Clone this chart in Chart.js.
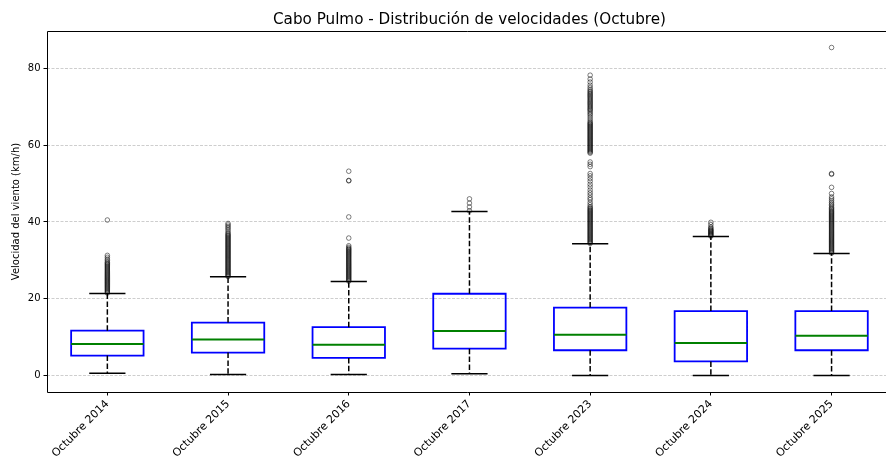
<!DOCTYPE html>
<html><head><meta charset="utf-8">
<script src="https://cdn.jsdelivr.net/npm/chart.js@4.4.1/dist/chart.umd.min.js"></script>
<style>html,body{margin:0;padding:0;background:#fff;overflow:hidden}#wrap{width:886px;height:457px}</style>
</head><body><div id="wrap"><canvas id="c" width="886" height="457"></canvas></div>
<script>
const categories = ["Octubre 2014","Octubre 2015","Octubre 2016","Octubre 2017","Octubre 2023","Octubre 2024","Octubre 2025"];
const whiskerLow  = [0.6, 0.3, 0.3, 0.5, 0.0, 0.0, 0.0];
const q1          = [5.2, 6.0, 4.6, 7.0, 6.6, 3.7, 6.6];
const median      = [8.2, 9.4, 8.0, 11.6, 10.6, 8.5, 10.4];
const q3          = [11.7, 13.8, 12.6, 21.3, 17.7, 16.8, 16.8];
const whiskerHigh = [21.4, 25.7, 24.5, 42.7, 34.3, 36.2, 31.8];

const outliers2014 = [21.5,21.75,22.0,22.25,22.5,22.75,23.0,23.25,23.5,23.75,24.0,24.25,24.5,24.75,25.0,25.25,25.5,25.75,26.0,26.25,26.5,26.75,27.0,27.25,27.5,27.75,28.0,28.25,28.5,28.75,29.0,29.25,29.5,29.9,30.3,30.8,31.3,40.5];
const outliers2015 = [25.8,26.05,26.3,26.55,26.8,27.05,27.3,27.55,27.8,28.05,28.3,28.55,28.8,29.05,29.3,29.55,29.8,30.05,30.3,30.55,30.8,31.05,31.3,31.55,31.8,32.05,32.3,32.55,32.8,33.05,33.3,33.55,33.8,34.05,34.3,34.55,34.8,35.05,35.3,35.55,35.8,36.05,36.3,36.55,36.8,37.1,37.5,38.0,38.4,38.8,39.2,39.6];
const outliers2016 = [24.6,24.85,25.1,25.35,25.6,25.85,26.1,26.35,26.6,26.85,27.1,27.35,27.6,27.85,28.1,28.35,28.6,28.85,29.1,29.35,29.6,29.85,30.1,30.35,30.6,30.85,31.1,31.35,31.6,31.85,32.1,32.35,32.6,32.85,33.1,33.4,33.8,35.8,41.3,50.7,50.8,53.2];
const outliers2017 = [42.9,43.9,44.9,46.0];
const outliers2023 = [34.4,34.65,34.9,35.15,35.4,35.65,35.9,36.15,36.4,36.65,36.9,37.15,37.4,37.65,37.9,38.15,38.4,38.65,38.9,39.15,39.4,39.65,39.9,40.15,40.4,40.65,40.9,41.15,41.4,41.65,41.9,42.15,42.4,42.65,42.9,43.15,43.4,43.7,44.0,
  44.5,45.1,45.8,46.3,47.0,47.6,48.3,49.1,49.8,50.6,51.3,52.0,52.6,54.4,55.0,55.6,
  57.9,58.15,58.4,58.65,58.9,59.15,59.4,59.65,59.9,60.15,60.4,60.65,60.9,61.15,61.4,61.65,61.9,62.15,62.4,62.65,62.9,63.15,63.4,63.65,63.9,64.15,64.4,64.65,64.9,65.15,65.4,65.65,65.9,66.3,66.8,67.3,67.8,68.2,68.6,69.0,69.3,69.6,69.9,70.2,70.5,70.8,71.1,71.4,71.7,72.0,72.3,72.6,72.9,73.2,73.5,73.8,74.1,74.5,75.0,75.6,76.4,77.2,78.2];
const outliers2024 = [36.3,36.5,36.7,36.9,37.1,37.3,37.5,37.7,37.9,38.1,38.4,38.7,39.3,39.9];
const outliers2025 = [31.9,32.15,32.4,32.65,32.9,33.15,33.4,33.65,33.9,34.15,34.4,34.65,34.9,35.15,35.4,35.65,35.9,36.15,36.4,36.65,36.9,37.15,37.4,37.65,37.9,38.15,38.4,38.65,38.9,39.15,39.4,39.65,39.9,40.15,40.4,40.65,40.9,41.15,41.4,41.65,41.9,42.15,42.4,42.65,42.9,43.2,43.5,43.8,44.2,44.6,45.0,45.5,46.0,46.5,47.4,49.0,52.4,52.6,85.4];
const outliers = [outliers2014,outliers2015,outliers2016,outliers2017,outliers2023,outliers2024,outliers2025];
const yTicks = [0,20,40,60,80];
const yMin = -4.27, yMax = 89.7;
const xMin = 0.5, xMax = 7.451, xAxisFullMax = 7.5;

const BOX_HALF = 0.3, CAP_HALF = 0.15;
const boxPts = [], medPts = [], whiskPts = [], capPts = [], outPts = [];
categories.forEach((c, i) => {
  const x = i + 1, L = x - BOX_HALF, R = x + BOX_HALF;
  boxPts.push({x:L,y:q1[i]},{x:R,y:q1[i]},{x:R,y:q3[i]},{x:L,y:q3[i]},{x:L,y:q1[i]},{x:R,y:q1[i]},{x:x,y:null});
  medPts.push({x:L,y:median[i]},{x:R,y:median[i]},{x:x,y:null});
  whiskPts.push({x:x,y:q1[i]},{x:x,y:whiskerLow[i]},{x:x,y:null},{x:x,y:q3[i]},{x:x,y:whiskerHigh[i]},{x:x,y:null});
  capPts.push({x:x-CAP_HALF,y:whiskerLow[i]},{x:x+CAP_HALF,y:whiskerLow[i]},{x:x,y:null},{x:x-CAP_HALF,y:whiskerHigh[i]},{x:x+CAP_HALF,y:whiskerHigh[i]},{x:x,y:null});
  outliers[i].forEach(v => outPts.push({x:x,y:v}));
});

const framePlugin = {
  id: 'frame',
  afterLayout(chart) {
    // centre the title over the full (partly cropped) axes span
    const xs = chart.scales.x, tb = chart.titleBlock;
    if (tb) { tb.left = xs.getPixelForValue(xMin); tb.right = xs.getPixelForValue(xAxisFullMax); }
  },
  afterDatasetsDraw(chart) {
    const {ctx, chartArea: a} = chart;
    const l = Math.round(a.left) + 0.5, t = Math.round(a.top) + 0.5, b = Math.round(a.bottom) + 0.5, r = a.right + 2;
    ctx.save();
    ctx.strokeStyle = '#000';
    ctx.lineWidth = 1;
    ctx.beginPath();
    ctx.moveTo(r, t); ctx.lineTo(l, t); ctx.lineTo(l, b); ctx.lineTo(r, b);
    ctx.stroke();
    ctx.restore();
  }
};

const lineDs = (label, data, color, width, dash, order) => ({
  label, data, showLine: true, spanGaps: false, borderColor: color, borderWidth: width,
  borderDash: dash, pointRadius: 0, fill: false, tension: 0, order,
  borderJoinStyle: 'miter', borderCapStyle: 'butt'
});

new Chart(document.getElementById('c'), {
  type: 'scatter',
  data: {
    datasets: [
      lineDs('boxes', boxPts, '#0000ff', 1.8, [], 5),
      lineDs('whiskers', whiskPts, '#000000', 1.5, [5.5, 2.4], 4),
      lineDs('caps', capPts, '#000000', 1.5, [], 3),
      lineDs('medians', medPts, '#008000', 2, [], 2),
      { label: 'outliers', data: outPts, showLine: false, pointRadius: 2.3, pointBorderWidth: 1,
        pointBorderColor: 'rgba(0,0,0,0.5)', pointBackgroundColor: 'rgba(0,0,0,0)', order: 1 }
    ]
  },
  options: {
    responsive: false, devicePixelRatio: 1, animation: false,
    layout: { autoPadding: false, padding: { left: 0, right: 0, top: 0, bottom: 0 } },
    plugins: {
      legend: { display: false }, tooltip: { enabled: false },
      title: { display: true, text: 'Cabo Pulmo - Distribución de velocidades (Octubre)', color: '#000',
        fullSize: false, font: { family: 'DejaVu Sans', size: 15.2, weight: 'normal' }, padding: { top: 11, bottom: 1.76 } }
    },
    scales: {
      x: {
        type: 'linear', min: xMin, max: xMax,
        afterBuildTicks: s => { s.ticks = categories.map((c, i) => ({ value: i + 1 })); },
        afterFit: s => { s.height = 65; s.paddingLeft = 0; s.paddingRight = 0; },
        ticks: { autoSkip: false, minRotation: 45, maxRotation: 45, color: '#000', padding: 2,
          font: { family: 'DejaVu Sans', size: 11 }, callback: v => categories[Math.round(v) - 1] },
        grid: { drawOnChartArea: false, drawTicks: true, tickLength: 3.5, tickColor: '#000', tickWidth: 1, tickBorderDash: [] },
        border: { display: false }
      },
      y: {
        type: 'linear', min: yMin, max: yMax,
        afterBuildTicks: s => { s.ticks = yTicks.map(v => ({ value: v })); },
        afterFit: s => { s.width = 47; },
        ticks: { color: '#000', padding: 3, font: { family: 'DejaVu Sans', size: 10 } },
        grid: { color: 'rgba(190,190,190,0.75)', lineWidth: 1, tickLength: 3.5, tickColor: '#000', tickWidth: 1, tickBorderDash: [] },
        border: { display: false, dash: [3, 1.5] },
        title: { display: true, text: 'Velocidad del viento (km/h)', color: '#000',
          font: { family: 'DejaVu Sans', size: 10 }, padding: { top: 10, bottom: 0 } }
      }
    }
  },
  plugins: [framePlugin]
});
</script></body></html>
